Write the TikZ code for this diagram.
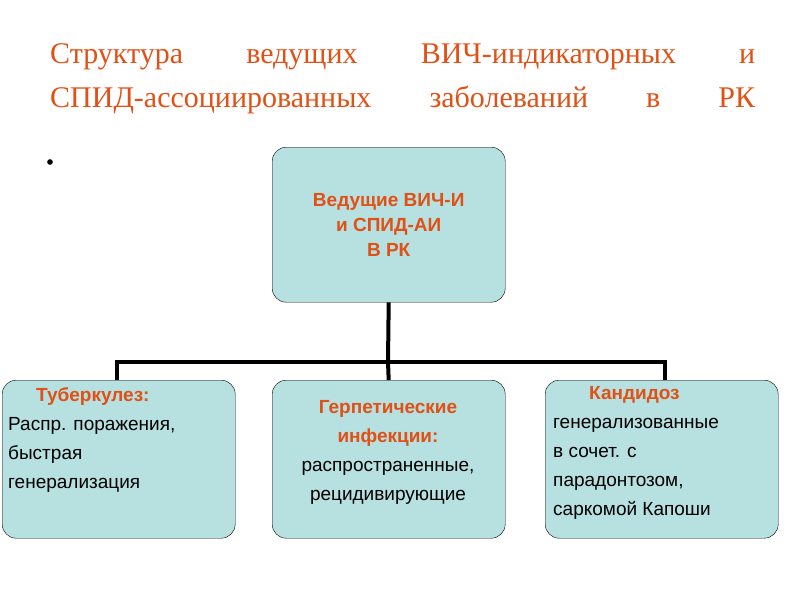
\documentclass[tikz,border=0pt]{standalone}
\usepackage{fontspec}
\setmainfont{Liberation Serif}
\newfontfamily\arial{Liberation Sans}
\definecolor{org}{RGB}{225,80,20}
\definecolor{boxc}{RGB}{183,224,224}
\begin{document}
\begin{tikzpicture}[x=1pt,y=-1pt,
  bx/.style={draw=black,fill=boxc,rounded corners=14pt,minimum width=233pt,minimum height=158pt,anchor=north west,font=\arial\fontsize{19}{25}\selectfont},
  hd/.style={text=org,font=\arial\bfseries\fontsize{19}{25}\selectfont},
  con/.style={line width=4pt}]
\useasboundingbox (0,0) rectangle (800,600);
\node[anchor=west,text=org,font=\fontsize{30}{44}\selectfont,inner sep=0] (t1) at (50,57) {\hbox to 705pt{Структура\hfill ведущих\hfill ВИЧ-индикаторных\hfill и}};
\node[anchor=west,text=org,font=\fontsize{30}{44}\selectfont,inner sep=0] (t2) at (50,100) {\hbox to 705pt{СПИД-ассоциированных\hfill заболеваний\hfill в\hfill РК}};
\node[fill=black,circle,inner sep=2pt] (b) at (50,162) {};
\node[bx,minimum height=155pt] (top) at (272,147) {};
\node[hd,align=center] at (top.center) {Ведущие ВИЧ-И\\и СПИД-АИ\\В РК};
\node[bx] (l) at (2,380) {};
\node[bx] (m) at (272,380) {};
\node[bx] (r) at (545,380) {};
\node[anchor=north west,align=left,inner sep=0,font=\arial\fontsize{19}{29}\selectfont] at (8,387) {\hspace*{28pt}{\bfseries\color{org}Туберкулез:}\\Распр. поражения,\\быстрая\\генерализация};
\node[anchor=north,align=center,inner sep=0,font=\arial\fontsize{19}{29}\selectfont] at (388,400) {{\bfseries\color{org}Герпетические}\\{\bfseries\color{org}инфекции:}\\распространенные,\\рецидивирующие};
\node[anchor=north west,align=left,inner sep=0,font=\arial\fontsize{19}{29}\selectfont] at (553,386) {\hspace*{36pt}{\bfseries\color{org}Кандидоз}\\генерализованные\\в сочет. с\\парадонтозом,\\саркомой Капоши};
\coordinate (j) at (388,362);
\draw[con] (top.south) -- (j);
\draw[con] (l.north -| 117,0) |- (j) -| (r.north -| 665,0);
\draw[con] (j) -- (m.north);
\end{tikzpicture}
\end{document}
